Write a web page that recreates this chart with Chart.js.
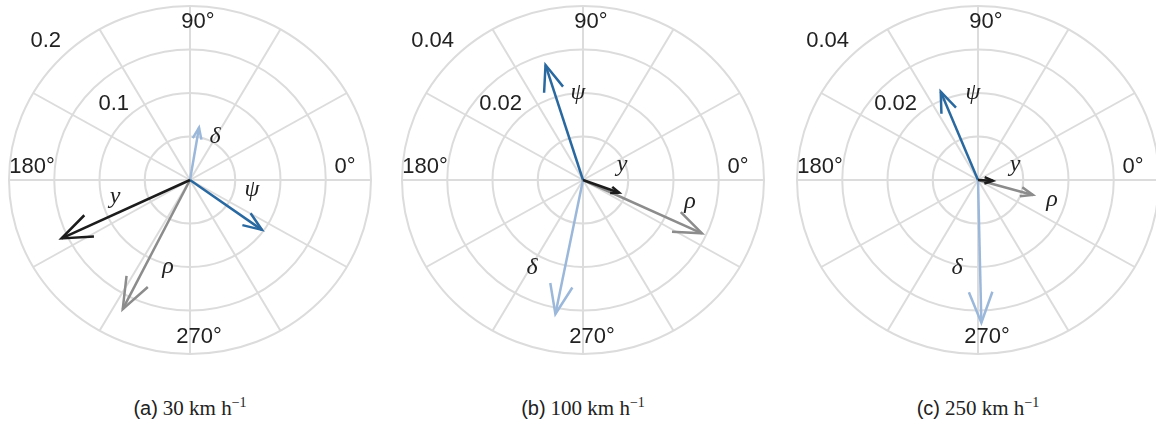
<!DOCTYPE html>
<html><head><meta charset="utf-8">
<script src="https://cdn.jsdelivr.net/npm/chart.js@4/dist/chart.umd.min.js"></script>
<style>
html,body{margin:0;padding:0;background:#fff;width:1156px;height:423px;overflow:hidden;position:relative}
canvas{position:absolute}
.cap{position:absolute;top:396px;width:300px;text-align:center;font-size:20px;color:#222;white-space:nowrap;line-height:24px}
.cap .s{font-family:"Liberation Sans",Arial,sans-serif}
.cap .m{font-family:"Liberation Serif","DejaVu Serif",serif;font-size:21px}
.cap sup{font-size:14px;vertical-align:8px;line-height:0}
</style></head><body>
<canvas id="c0" width="390" height="370"></canvas>
<canvas id="c1" width="390" height="370"></canvas>
<canvas id="c2" width="390" height="370"></canvas>
<div class="cap" id="cap0"></div>
<div class="cap" id="cap1"></div>
<div class="cap" id="cap2"></div>
<script>
// ---- data ----
const variables = ['y', 'ψ', 'δ', 'ρ'];
const panelTags = ['(a)', '(b)', '(c)'];
const speeds = [30, 100, 250];
const radialMax = [0.2, 0.04, 0.04];
const ringStep = [0.05, 0.01, 0.01];
const radialTickLabels = [['0.1', '0.2'], ['0.02', '0.04'], ['0.02', '0.04']];
const angleTickLabels = ['0°', '90°', '180°', '270°'];
// magnitudes and angles (deg) per panel, order: y, ψ, δ, ρ
const magA = [0.157, 0.098, 0.061, 0.166];
const angA = [205.3, 324.2, 80.6, 243.4];
const magB = [0.0085, 0.0277, 0.0314, 0.0290];
const angB = [339.9, 107.4, 258.8, 335.0];
const magC = [0.0033, 0.0219, 0.0328, 0.0126];
const angC = [357.0, 112.1, 271.3, 344.2];

// ---- styling / layout ----
const colors = ['#1c1c1c', '#2a68a0', '#9bb8db', '#8c8c8c'];
const centers = [190, 583, 978];
const CW = 390, CH = 370, CY = 180;
const RX = 181, RY = 174;
const symbolOffsets = [
  [[-75, 17], [62, 10], [25, -43], [-22, 87]],
  [[39, -15], [-5, -87], [-51, 88], [107, 22]],
  [[37, -15], [-5, -87], [-21, 88], [74, 20]]
];
const angleLabelOffsets = [[155, -13], [8, -158], [-158, -13], [9, 157]];
const radialLabelOffsets = [[-61, -76], [-129, -139]];

const polarPlugin = {
  id: 'polarDeco',
  beforeDatasetsDraw(chart, args, o) {
    const ctx = chart.ctx, xs = chart.scales.x, ys = chart.scales.y;
    const cx = xs.getPixelForValue(0), cy = ys.getPixelForValue(0);
    ctx.save();
    ctx.strokeStyle = '#dcdcdc';
    ctx.lineWidth = 2;
    for (let r = o.step; r <= o.R + 1e-9; r += o.step) {
      const rx = xs.getPixelForValue(r) - cx, ry = cy - ys.getPixelForValue(r);
      ctx.beginPath(); ctx.ellipse(cx, cy, rx, ry, 0, 0, Math.PI * 2); ctx.stroke();
    }
    for (let a = 0; a < 360; a += 30) {
      const t = a * Math.PI / 180;
      ctx.beginPath();
      ctx.moveTo(cx, cy);
      ctx.lineTo(xs.getPixelForValue(o.R * Math.cos(t)), ys.getPixelForValue(o.R * Math.sin(t)));
      ctx.stroke();
    }
    ctx.fillStyle = '#222';
    ctx.font = '22px "Liberation Sans", Arial, sans-serif';
    ctx.textBaseline = 'middle';
    ctx.textAlign = 'center';
    angleTickLabels.forEach((t, i) => {
      ctx.fillText(t, cx + angleLabelOffsets[i][0], cy + angleLabelOffsets[i][1]);
    });
    ctx.textAlign = 'right';
    o.radial.forEach((t, i) => {
      ctx.fillText(t, cx + radialLabelOffsets[i][0], cy + radialLabelOffsets[i][1]);
    });
    ctx.restore();
  },
  afterDatasetsDraw(chart, args, o) {
    const ctx = chart.ctx, xs = chart.scales.x, ys = chart.scales.y;
    const cx = xs.getPixelForValue(0), cy = ys.getPixelForValue(0);
    ctx.save();
    chart.data.datasets.forEach((ds, i) => {
      const meta = chart.getDatasetMeta(i);
      const p0 = meta.data[0], p1 = meta.data[1];
      const dx = p1.x - p0.x, dy = p1.y - p0.y;
      const L = Math.hypot(dx, dy);
      const head = Math.max(0.23 * L, 9);
      const back = Math.atan2(-dy, -dx);
      const spread = 21 * Math.PI / 180;
      ctx.strokeStyle = ds.borderColor;
      ctx.lineWidth = 2.5;
      ctx.lineJoin = 'miter';
      ctx.beginPath();
      ctx.moveTo(p1.x + head * Math.cos(back + spread), p1.y + head * Math.sin(back + spread));
      ctx.lineTo(p1.x, p1.y);
      ctx.lineTo(p1.x + head * Math.cos(back - spread), p1.y + head * Math.sin(back - spread));
      ctx.stroke();
    });
    ctx.fillStyle = '#222';
    ctx.font = 'italic 24px "Liberation Serif", "DejaVu Serif", serif';
    ctx.textAlign = 'center';
    ctx.textBaseline = 'middle';
    variables.forEach((v, i) => {
      ctx.fillText(v, cx + o.sym[i][0], cy + o.sym[i][1]);
    });
    ctx.restore();
  }
};

function makePanel(idx, mags, angs) {
  const R = radialMax[idx];
  const tips = mags.map((m, i) => ({
    x: m * Math.cos(angs[i] * Math.PI / 180),
    y: m * Math.sin(angs[i] * Math.PI / 180)
  }));
  const cv = document.getElementById('c' + idx);
  cv.style.left = (centers[idx] - CW / 2) + 'px';
  cv.style.top = (CY - CH / 2) + 'px';
  const xr = R * (CW / 2) / RX, yr = R * (CH / 2) / RY;
  new Chart(cv, {
    type: 'scatter',
    data: {
      datasets: variables.map((v, i) => ({
        label: v,
        data: [{ x: 0, y: 0 }, tips[i]],
        showLine: true,
        borderColor: colors[i],
        backgroundColor: colors[i],
        borderWidth: 2.5,
        pointRadius: 0,
        pointHoverRadius: 0,
        fill: false,
        clip: false
      }))
    },
    options: {
      responsive: false,
      animation: false,
      events: [],
      layout: { padding: 0 },
      scales: {
        x: { type: 'linear', display: false, min: -xr, max: xr },
        y: { type: 'linear', display: false, min: -yr, max: yr }
      },
      plugins: {
        legend: { display: false },
        tooltip: { enabled: false },
        polarDeco: { R: R, step: ringStep[idx], radial: radialTickLabels[idx], sym: symbolOffsets[idx] }
      }
    },
    plugins: [polarPlugin]
  });
  const cap = document.getElementById('cap' + idx);
  cap.style.left = (centers[idx] - 150) + 'px';
  cap.innerHTML = '<span class="s">' + panelTags[idx] + '</span> <span class="m">' + speeds[idx] +
    '&#8197;km&#8197;h<sup>−1</sup></span>';
}

makePanel(0, magA, angA);
makePanel(1, magB, angB);
makePanel(2, magC, angC);
</script>
</body></html>
